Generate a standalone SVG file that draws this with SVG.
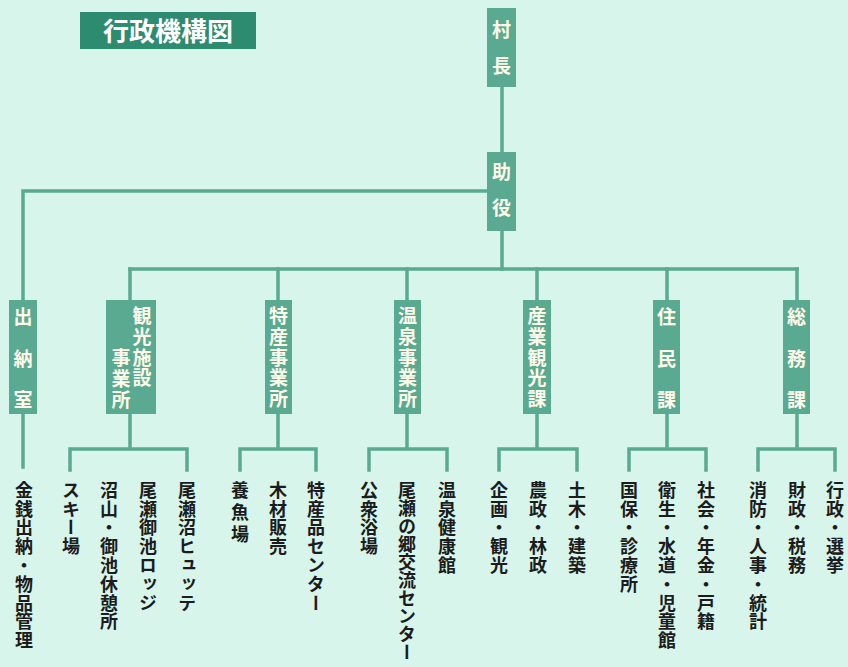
<svg xmlns="http://www.w3.org/2000/svg" width="848" height="667" viewBox="0 0 848 667">
<style>
.bg{fill:#d7f5eb}
.node{fill:#5aaa91}
.ln{stroke:#5aaa91;stroke-width:3.5;fill:none;stroke-linecap:square}
.nt{font-family:"Noto Sans CJK JP","Noto Sans",sans-serif;font-size:19px;fill:#fffbea;writing-mode:vertical-rl;font-weight:bold}
.n5{letter-spacing:1.75px}
.n3{letter-spacing:22.5px}
.vt{font-family:"Noto Sans CJK JP","Noto Sans",sans-serif;font-size:18px;fill:#1c1c1c;writing-mode:vertical-rl;letter-spacing:0.8px;font-weight:bold}
.title{font-family:"Noto Sans CJK JP","Noto Sans",sans-serif;font-size:26px;fill:#ffffff;text-anchor:middle;font-weight:bold}
</style>
<rect class="bg" x="0" y="0" width="848" height="667"/>
<g id="title">
<rect x="80" y="12" width="176" height="37" fill="#2d8c6f"/>
<text class="title" x="168" y="41">行政機構図</text>
</g>
<g id="connectors">
<path class="ln" d="M502 87V152"/>
<path class="ln" d="M487 191H23V300"/>
<path class="ln" d="M502 231V269"/>
<path class="ln" d="M130 269H797"/>
<path class="ln" d="M130 269V300M278 269V300M407 269V300M537 269V300M667 269V300M797 269V300"/>
<path class="ln" d="M23 414V467"/>
<path class="ln" d="M130 414V449M70 470V449H187V470"/>
<path class="ln" d="M278 414V449M240 470V449H316V470"/>
<path class="ln" d="M407 414V449M369 470V449H447V470"/>
<path class="ln" d="M537 414V449M499 470V449H577V470"/>
<path class="ln" d="M667 414V449M629 470V449H706V470"/>
<path class="ln" d="M797 414V449M758 470V449H835V470"/>
</g>
<g id="sonchou">
<rect class="node" x="487" y="8" width="29" height="79"/>
<text class="nt" x="501.5" y="20.5" style="letter-spacing:17px">村長</text>
</g>
<g id="joyaku">
<rect class="node" x="487" y="152" width="29" height="79"/>
<text class="nt" x="501.5" y="162.5" style="letter-spacing:17px">助役</text>
</g>
<g id="suitou">
<rect class="node" x="9" y="300" width="28" height="114"/>
<text class="nt n3" x="23" y="307.5">出納室</text>
</g>
<g id="kankou-shisetsu">
<rect class="node" x="106" y="300" width="50" height="114"/>
<text class="nt n5" x="142" y="306.5">観光施設</text>
<text class="nt n5" x="121" y="348.5">事業所</text>
</g>
<g id="tokusan">
<rect class="node" x="265" y="300" width="27" height="114"/>
<text class="nt n5" x="278.5" y="306.5">特産事業所</text>
</g>
<g id="onsen">
<rect class="node" x="394" y="300" width="27" height="114"/>
<text class="nt n5" x="407.5" y="306.5">温泉事業所</text>
</g>
<g id="sangyou">
<rect class="node" x="523" y="300" width="28" height="114"/>
<text class="nt n5" x="537" y="306.5">産業観光課</text>
</g>
<g id="juumin">
<rect class="node" x="653" y="300" width="27" height="114"/>
<text class="nt n3" x="666.5" y="307.5">住民課</text>
</g>
<g id="soumu">
<rect class="node" x="783" y="300" width="27" height="114"/>
<text class="nt n3" x="796.5" y="307.5">総務課</text>
</g>
<g id="sections">
<text class="vt" x="24" y="481">金銭出納・物品管理</text>
<text class="vt" x="71" y="481">スキー場</text>
<text class="vt" x="109" y="481">沼山・御池休憩所</text>
<text class="vt" x="148" y="481">尾瀬御池ロッジ</text>
<text class="vt" x="187" y="481">尾瀬沼ヒュッテ</text>
<text class="vt" x="240" y="481" style="letter-spacing:4px">養魚場</text>
<text class="vt" x="278" y="481">木材販売</text>
<text class="vt" x="316" y="481">特産品センター</text>
<text class="vt" x="369" y="481">公衆浴場</text>
<text class="vt" x="407" y="481" style="letter-spacing:0px">尾瀬の郷交流センター</text>
<text class="vt" x="447" y="481">温泉健康館</text>
<text class="vt" x="499" y="481">企画・観光</text>
<text class="vt" x="538" y="481">農政・林政</text>
<text class="vt" x="577" y="481">土木・建築</text>
<text class="vt" x="629" y="481">国保・診療所</text>
<text class="vt" x="667" y="481">衛生・水道・児童館</text>
<text class="vt" x="706" y="481">社会・年金・戸籍</text>
<text class="vt" x="758" y="481">消防・人事・統計</text>
<text class="vt" x="797" y="481">財政・税務</text>
<text class="vt" x="835" y="481">行政・選挙</text>
</g>
</svg>
